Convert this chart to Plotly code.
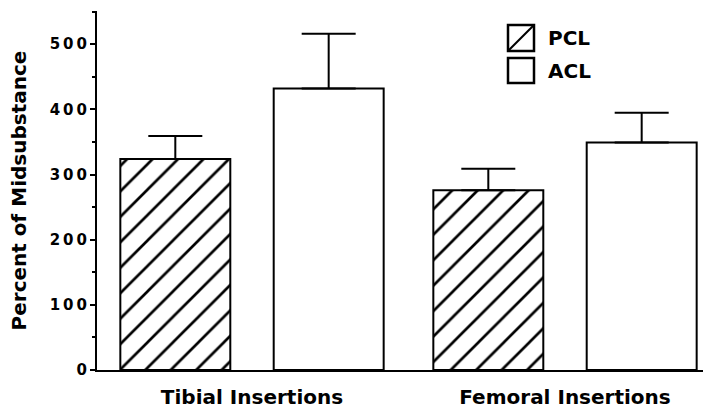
import plotly.graph_objects as go

# ---- data ----
groups = ["Tibial Insertions", "Femoral Insertions"]
pcl_values = [324, 276]
pcl_errors = [35, 33]
acl_values = [432, 349]
acl_errors = [84, 46]
y_tick_values = [0, 100, 200, 300, 400, 500]
y_tick_labels = ["0", "1\u20090\u20090", "2\u20090\u20090", "3\u20090\u20090", "4\u20090\u20090", "5\u20090\u20090"]
legend_names = ["PCL", "ACL"]

W, H = 703, 413
ML, MR, MT, MB = 97, 0, 11, 43
PW, PH = W - ML - MR, H - MT - MB

FONT = "DejaVu Sans"

def px(x):
    return (x - ML) / PW

def py(y):
    return (H - MB - y) / PH

err_common = dict(type="data", symmetric=False, color="black", thickness=2, width=27)

fig = go.Figure()
fig.add_trace(go.Bar(
    x=groups, y=pcl_values, name=legend_names[0],
    marker=dict(color="white", line=dict(color="black", width=2),
                pattern=dict(shape="/", size=18, solidity=0.15, fgopacity=1,
                             fgcolor="#000000", bgcolor="#ffffff", fillmode="replace")),
    error_y=dict(array=pcl_errors, arrayminus=[0] * len(pcl_errors), **err_common),
    showlegend=False,
))
fig.add_trace(go.Bar(
    x=groups, y=acl_values, name=legend_names[1],
    marker=dict(color="white", line=dict(color="black", width=2)),
    error_y=dict(array=acl_errors, arrayminus=[0] * len(acl_errors), **err_common),
    showlegend=False,
))

shapes = []
# legend boxes (drawn manually to match the large swatches)
box_x0, box_x1 = 508, 534
boxes = [(25, 51), (58, 83)]
for (t, b) in boxes:
    shapes.append(dict(type="rect", xref="paper", yref="paper",
                       x0=px(box_x0), x1=px(box_x1), y0=py(b), y1=py(t),
                       line=dict(color="black", width=2.5), fillcolor="white"))
shapes.append(dict(type="line", xref="paper", yref="paper",
                   x0=px(box_x0), y0=py(boxes[0][1]), x1=px(box_x1), y1=py(boxes[0][0]),
                   line=dict(color="black", width=2)))

annotations = []
for name, (t, b) in zip(legend_names, boxes):
    annotations.append(dict(xref="paper", yref="paper", x=px(546), y=py((t + b) / 2),
                            text=name, showarrow=False, xanchor="left", yanchor="middle",
                            font=dict(family=FONT, size=20, color="black", weight="bold")))

fig.update_layout(
    width=W, height=H,
    margin=dict(l=ML, r=MR, t=MT, b=MB, autoexpand=False),
    paper_bgcolor="white", plot_bgcolor="white",
    barmode="group", bargap=0.02, bargroupgap=0.283,
    showlegend=False,
    shapes=shapes, annotations=annotations,
    xaxis=dict(
        range=[-0.4952, 1.4409], showgrid=False, zeroline=False,
        showline=True, linecolor="black", linewidth=2,
        ticks="", tickfont=dict(family=FONT, size=20, color="black", weight="bold"),
        ticklabelstandoff=8,
    ),
    yaxis=dict(
        range=[0, 551], showgrid=False, zeroline=False,
        showline=True, linecolor="black", linewidth=2,
        tickmode="array", tickvals=y_tick_values, ticktext=y_tick_labels,
        ticks="outside", ticklen=5, tickwidth=2, tickcolor="black",
        minor=dict(dtick=50, ticks="outside", ticklen=3, tickwidth=1.5, tickcolor="black"),
        tickfont=dict(family=FONT, size=15, color="black", weight="bold"),
        title=dict(text="Percent of Midsubstance", standoff=18,
                   font=dict(family=FONT, size=20, color="black", weight="bold")),
    ),
)

fig.write_html("out.html")
